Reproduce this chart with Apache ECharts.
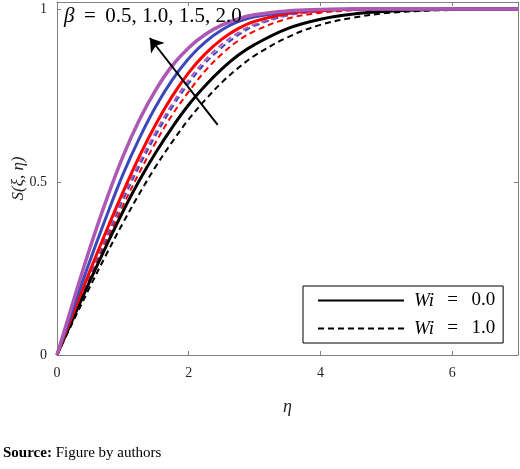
<!DOCTYPE html>
<html>
<head>
<meta charset="utf-8">
<script src="https://cdn.jsdelivr.net/npm/echarts@6/dist/echarts.min.js"></script>
<style>
  html, body { margin: 0; padding: 0; background: #fff; }
  #chart { width: 520px; height: 469px; }
</style>
</head>
<body>
<div id="chart"></div>
<script>
	"use strict";

	/* values */
	var eta = [0, 0.25, 0.5, 0.75, 1, 1.25, 1.5, 1.75, 2, 2.25, 2.5, 2.75, 3, 3.5, 4, 4.5, 5, 5.5, 6, 7];

	// Wi = 0.0 (solid)
	var b05_wi0 = [0, 0.108, 0.214, 0.316, 0.414, 0.504, 0.585, 0.658, 0.723, 0.778, 0.826, 0.866, 0.897, 0.943, 0.970, 0.985, 0.993, 0.997, 0.999, 1];
	var b10_wi0 = [0, 0.123, 0.243, 0.359, 0.470, 0.574, 0.667, 0.748, 0.816, 0.870, 0.912, 0.943, 0.964, 0.987, 0.995, 0.999, 1, 1, 1, 1];
	var b15_wi0 = [0, 0.138, 0.272, 0.400, 0.521, 0.626, 0.718, 0.795, 0.857, 0.904, 0.939, 0.963, 0.977, 0.992, 0.998, 1, 1, 1, 1, 1];
	var b20_wi0 = [0, 0.157, 0.309, 0.448, 0.573, 0.679, 0.766, 0.836, 0.888, 0.926, 0.953, 0.971, 0.983, 0.994, 0.998, 1, 1, 1, 1, 1];

	// Wi = 1.0 (dashed)
	var b05_wi1 = [0, 0.099, 0.197, 0.291, 0.381, 0.466, 0.545, 0.616, 0.681, 0.737, 0.787, 0.829, 0.865, 0.918, 0.954, 0.975, 0.988, 0.994, 0.997, 1];
	var b10_wi1 = [0, 0.112, 0.223, 0.329, 0.431, 0.527, 0.615, 0.694, 0.761, 0.821, 0.869, 0.908, 0.936, 0.972, 0.989, 0.996, 0.999, 1, 1, 1];
	var b15_wi1 = [0, 0.117, 0.231, 0.341, 0.447, 0.546, 0.635, 0.716, 0.785, 0.843, 0.888, 0.924, 0.951, 0.981, 0.993, 0.998, 1, 1, 1, 1];
	var b20_wi1 = [0, 0.119, 0.236, 0.348, 0.456, 0.556, 0.645, 0.726, 0.795, 0.852, 0.897, 0.931, 0.955, 0.983, 0.994, 0.999, 1, 1, 1, 1];

	var xTicks = [0, 2, 4, 6];
	var yTicks = [0, 0.5, 1];
	var arrowFrom = [2.44, 0.665];
	var arrowTo = [1.41, 0.916];

	var serif = "'Liberation Serif', 'DejaVu Serif', serif";
	var axisGrey = '#808080';
	var black = '#000000', red = '#ff0000', blue = '#3a48ba', purple = '#ac58b4';
	var sp = '\u2002\u2009';
	var th = ' \u2009';

	function pairs(ys) {
		return eta.map(function (e, i) { return [e, ys[i]]; });
	}

	function curve(name, ys, color, dashed, width) {
		return {
			name: name,
			type: 'line',
			data: pairs(ys),
			smooth: 0.35,
			symbol: 'none',
			silent: true,
			lineStyle: {
				color: color,
				width: width,
				type: dashed ? [6, 4] : 'solid'
			},
			z: 3
		};
	}

	function frameAxis(pos, ticks, lbl, margin) {
		return {
			type: 'value',
			position: pos,
			nameMoveOverlap: false,
			axisLine: { show: true, onZero: false, lineStyle: { color: axisGrey, width: 1 } },
			axisTick: { show: true, inside: true, length: 4, customValues: ticks, lineStyle: { color: axisGrey } },
			axisLabel: lbl ? {
				show: true,
				customValues: ticks,
				fontFamily: serif,
				fontSize: 14,
				color: '#262626',
				margin: margin
			} : { show: false },
			splitLine: { show: false }
		};
	}

	var xBottom = frameAxis('bottom', xTicks, true, 11);
	xBottom.min = 0; xBottom.max = 7;
	xBottom.name = 'η';
	xBottom.nameLocation = 'middle';
	xBottom.nameGap = 43;
	xBottom.nameTextStyle = { fontFamily: serif, fontStyle: 'italic', fontSize: 18, color: '#262626' };

	var xTop = frameAxis('top', xTicks, false, 0);
	xTop.min = 0; xTop.max = 7;

	var yLeft = frameAxis('left', yTicks, true, 10);
	yLeft.min = 0; yLeft.max = 1.02;
	yLeft.name = '{i|S}(ξ, η)';
	yLeft.nameLocation = 'middle';
	yLeft.nameGap = 30;
	yLeft.nameTextStyle = {
		fontFamily: serif, fontStyle: 'italic', fontSize: 17, color: '#262626',
		rich: { i: { fontFamily: serif, fontStyle: 'italic', fontSize: 17, color: '#262626' } }
	};

	var yRight = frameAxis('right', yTicks, false, 0);
	yRight.min = 0; yRight.max = 1.02;

	var chart = echarts.init(document.getElementById('chart'), null, { renderer: 'canvas' });

	var option = {
		animation: false,
		backgroundColor: '#ffffff',
		grid: { left: 57, right: 2, top: 2, bottom: 114, containLabel: false },
		xAxis: [xBottom, xTop],
		yAxis: [yLeft, yRight],
		legend: {
			orient: 'vertical',
			left: 303,
			top: 286,
			data: ['Wi0', 'Wi1'],
			backgroundColor: '#ffffff',
			borderColor: '#000000',
			borderWidth: 1,
			borderRadius: 0,
			padding: [5, 8, 5, 14],
			itemWidth: 86,
			itemHeight: 14,
			itemGap: 9,
			selectedMode: false,
			itemStyle: { opacity: 0 },
			formatter: function (n) {
				return n === 'Wi0' ? '{i|Wi}' + sp + '=' + sp + '0.0' : '{i|Wi}' + sp + '=' + sp + '1.0';
			},
			textStyle: {
				fontFamily: serif,
				fontSize: 19,
				color: '#000',
				padding: [0, 0, 0, 5],
				rich: { i: { fontFamily: serif, fontStyle: 'italic', fontSize: 19, color: '#000' } }
			}
		},
		series: [
			{ name: 'Wi0', type: 'line', data: [], symbol: 'none', lineStyle: { color: black, width: 3 } },
			{ name: 'Wi1', type: 'line', data: [], symbol: 'none', lineStyle: { color: black, width: 2, type: [6, 4] } },
			curve('b05_wi1', b05_wi1, black, true, 2),
			curve('b10_wi1', b10_wi1, red, true, 2),
			curve('b15_wi1', b15_wi1, blue, true, 2),
			curve('b20_wi1', b20_wi1, purple, true, 2),
			curve('b05_wi0', b05_wi0, black, false, 3),
			curve('b10_wi0', b10_wi0, red, false, 3),
			curve('b15_wi0', b15_wi0, blue, false, 3),
			curve('b20_wi0', b20_wi0, purple, false, 3.5),
			{
				name: 'arrow',
				type: 'lines',
				coordinateSystem: 'cartesian2d',
				silent: true,
				symbol: ['none', 'arrow'],
				symbolSize: 13,
				lineStyle: { color: black, width: 2, opacity: 1 },
				data: [{ coords: [arrowFrom, arrowTo] }],
				z: 5
			}
		],
		graphic: [
			{
				type: 'text',
				left: 64,
				top: 6,
				silent: true,
				style: {
					text: '{b|β}' + th + '=' + th + '0.5, 1.0, 1.5, 2.0',
					font: '21px ' + serif,
					fill: '#000',
					rich: { b: { fontFamily: serif, fontStyle: 'italic', fontSize: 21, fill: '#000' } }
				},
				z: 10
			},
			{
				type: 'text',
				left: 3,
				top: 446,
				silent: true,
				style: {
					text: '{b|Source:} Figure by authors',
					font: '15px ' + serif,
					fill: '#000',
					rich: { b: { fontFamily: serif, fontWeight: 'bold', fontSize: 15, fill: '#000' } }
				}
			}
		]
	};

	chart.setOption(option);
</script>
</body>
</html>
